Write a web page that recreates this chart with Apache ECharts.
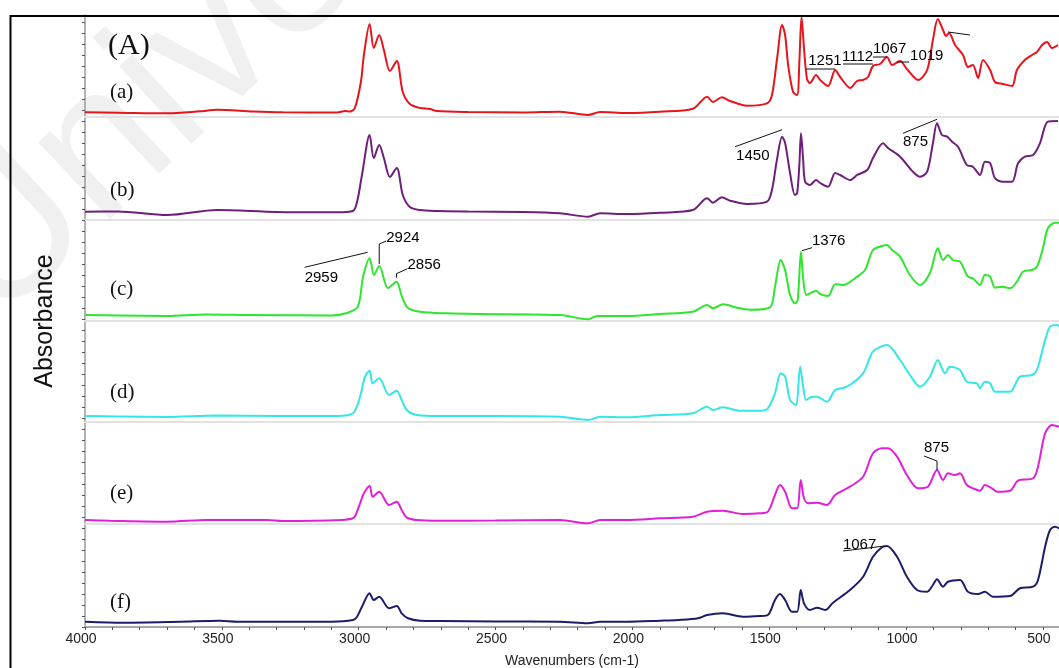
<!DOCTYPE html>
<html><head><meta charset="utf-8">
<script src="https://cdn.jsdelivr.net/npm/echarts@6/dist/echarts.min.js"></script>
<style>html,body{margin:0;padding:0;background:#fff;overflow:hidden}#c{width:1075px;height:668px}</style>
</head><body><div id="c"></div>
<script>
// ---------- data (wavenumber cm-1, relative absorbance) ----------
const sampleLabels = ['(a)', '(b)', '(c)', '(d)', '(e)', '(f)'];
const xTickLabels = [4000, 3500, 3000, 2500, 2000, 1500, 1000, 500];

const traceA = [[4000,0.047],[3879,0.043],[3700,0.037],[3580,0.057],[3518,0.072],[3386,0.055],[3277,0.047],[3079,0.045],[3050,0.06],[3032,0.055],[3014,0.09],[2992,0.35],[2981,0.62],[2960,0.93],[2945,0.69],[2925,0.82],[2908,0.67],[2886,0.46],[2861,0.56],[2839,0.25],[2813,0.13],[2776,0.09],[2740,0.08],[2714,0.06],[2600,0.05],[2400,0.045],[2265,0.053],[2162,0.02],[2118,0.05],[2020,0.04],[1899,0.053],[1779,0.083],[1727,0.203],[1706,0.15],[1673,0.197],[1643,0.16],[1581,0.113],[1508,0.137],[1490,0.22],[1472,0.57],[1453,0.92],[1442,0.82],[1431,0.52],[1413,0.25],[1398,0.22],[1390,0.55],[1382,1.0],[1372,0.65],[1362,0.38],[1351,0.34],[1329,0.42],[1314,0.37],[1285,0.31],[1259,0.47],[1241,0.40],[1204,0.29],[1179,0.36],[1157,0.37],[1139,0.40],[1121,0.51],[1095,0.53],[1070,0.60],[1051,0.52],[1022,0.56],[997,0.48],[956,0.37],[923,0.47],[902,0.77],[884,0.98],[865,0.87],[854,0.81],[843,0.84],[821,0.72],[792,0.62],[774,0.50],[756,0.52],[737,0.39],[719,0.57],[693,0.47],[675,0.35],[646,0.33],[613,0.31],[595,0.47],[566,0.57],[540,0.62],[522,0.65],[503,0.72],[485,0.75],[467,0.69],[445,0.72]];

const traceB = [[4000,0.083],[3880,0.085],[3700,0.05],[3518,0.10],[3300,0.08],[3079,0.077],[3021,0.09],[3006,0.18],[2988,0.45],[2960,0.85],[2945,0.62],[2925,0.75],[2908,0.62],[2886,0.43],[2861,0.52],[2839,0.25],[2813,0.13],[2776,0.10],[2714,0.09],[2600,0.085],[2400,0.08],[2265,0.067],[2162,0.033],[2118,0.067],[2020,0.06],[1899,0.073],[1779,0.10],[1727,0.217],[1706,0.173],[1673,0.227],[1643,0.193],[1581,0.16],[1508,0.183],[1490,0.30],[1472,0.60],[1453,0.833],[1442,0.77],[1424,0.47],[1406,0.25],[1398,0.27],[1390,0.55],[1384,0.867],[1376,0.60],[1369,0.383],[1351,0.35],[1329,0.40],[1314,0.37],[1285,0.333],[1259,0.47],[1241,0.45],[1204,0.40],[1179,0.45],[1142,0.50],[1121,0.62],[1084,0.767],[1066,0.72],[1022,0.633],[975,0.483],[949,0.433],[923,0.483],[902,0.767],[887,0.967],[869,0.85],[850,0.833],[832,0.783],[810,0.733],[778,0.55],[756,0.533],[730,0.45],[712,0.583],[693,0.57],[675,0.417],[646,0.383],[613,0.383],[591,0.567],[566,0.633],[536,0.65],[511,0.767],[482,0.983],[445,0.99]];

const traceC = [[4000,0.06],[3880,0.055],[3700,0.05],[3560,0.065],[3400,0.06],[3100,0.055],[3043,0.08],[3003,0.143],[2984,0.443],[2960,0.627],[2944,0.46],[2925,0.55],[2893,0.33],[2862,0.393],[2842,0.243],[2820,0.13],[2776,0.093],[2677,0.077],[2557,0.07],[2265,0.06],[2162,0.017],[2129,0.05],[2020,0.05],[1899,0.07],[1779,0.093],[1727,0.16],[1706,0.127],[1669,0.167],[1618,0.133],[1570,0.113],[1497,0.137],[1479,0.343],[1458,0.61],[1442,0.51],[1424,0.26],[1406,0.177],[1396,0.21],[1384,0.693],[1376,0.427],[1365,0.26],[1351,0.277],[1329,0.303],[1314,0.27],[1285,0.25],[1259,0.367],[1231,0.36],[1179,0.443],[1150,0.51],[1121,0.71],[1088,0.75],[1070,0.76],[1051,0.71],[1022,0.643],[986,0.46],[949,0.36],[913,0.477],[884,0.727],[865,0.61],[847,0.66],[829,0.61],[803,0.593],[774,0.443],[756,0.427],[730,0.36],[712,0.46],[693,0.443],[675,0.333],[650,0.343],[620,0.327],[595,0.393],[573,0.493],[540,0.51],[522,0.543],[500,0.727],[482,0.927],[456,0.983],[441,0.983]];

const traceD = [[4000,0.06],[3880,0.055],[3700,0.05],[3520,0.065],[3300,0.06],[3080,0.06],[3021,0.087],[2995,0.253],[2977,0.453],[2960,0.513],[2949,0.387],[2925,0.437],[2889,0.27],[2861,0.313],[2843,0.22],[2825,0.12],[2788,0.07],[2703,0.06],[2500,0.06],[2265,0.053],[2162,0.02],[2118,0.053],[2020,0.047],[1899,0.07],[1779,0.087],[1727,0.153],[1706,0.12],[1669,0.147],[1607,0.113],[1534,0.113],[1505,0.137],[1479,0.287],[1458,0.487],[1442,0.453],[1424,0.22],[1403,0.17],[1387,0.553],[1376,0.353],[1365,0.22],[1343,0.253],[1325,0.253],[1289,0.203],[1259,0.32],[1216,0.353],[1157,0.487],[1121,0.703],[1070,0.77],[1022,0.62],[986,0.47],[949,0.353],[913,0.453],[884,0.62],[858,0.487],[840,0.553],[803,0.52],[778,0.403],[741,0.387],[730,0.337],[712,0.403],[693,0.387],[675,0.303],[620,0.303],[584,0.453],[540,0.47],[522,0.52],[492,0.82],[474,0.953],[449,0.97],[441,0.953]];

const traceE = [[4000,0.04],[3909,0.033],[3700,0.023],[3554,0.04],[3335,0.04],[3277,0.03],[3062,0.04],[3021,0.057],[3011,0.09],[2995,0.207],[2981,0.307],[2960,0.38],[2949,0.273],[2925,0.323],[2889,0.19],[2861,0.223],[2843,0.14],[2825,0.067],[2788,0.04],[2703,0.033],[2500,0.035],[2265,0.04],[2162,0.007],[2118,0.04],[2020,0.04],[1899,0.057],[1779,0.073],[1727,0.123],[1669,0.133],[1596,0.10],[1534,0.107],[1505,0.123],[1479,0.29],[1461,0.39],[1442,0.323],[1417,0.157],[1398,0.157],[1385,0.44],[1373,0.257],[1358,0.207],[1325,0.213],[1289,0.19],[1259,0.29],[1205,0.373],[1157,0.473],[1121,0.707],[1088,0.757],[1066,0.757],[1033,0.673],[997,0.49],[956,0.357],[920,0.373],[887,0.54],[865,0.44],[847,0.507],[821,0.49],[803,0.507],[778,0.39],[741,0.34],[730,0.333],[712,0.39],[686,0.357],[668,0.323],[620,0.333],[591,0.433],[536,0.457],[518,0.573],[492,0.907],[467,0.99],[441,0.973]];

const traceF = [[4000,0.053],[3861,0.043],[3653,0.053],[3507,0.063],[3444,0.053],[3100,0.053],[3021,0.07],[3006,0.103],[2988,0.203],[2960,0.337],[2945,0.27],[2925,0.303],[2889,0.187],[2861,0.21],[2843,0.137],[2820,0.087],[2776,0.063],[2700,0.06],[2500,0.055],[2265,0.053],[2162,0.037],[2118,0.053],[2020,0.053],[1899,0.063],[1833,0.07],[1760,0.087],[1727,0.12],[1669,0.137],[1596,0.103],[1534,0.11],[1505,0.12],[1479,0.27],[1461,0.33],[1442,0.27],[1417,0.153],[1398,0.153],[1385,0.37],[1373,0.237],[1351,0.17],[1325,0.193],[1296,0.17],[1267,0.243],[1205,0.37],[1157,0.503],[1121,0.703],[1088,0.797],[1070,0.81],[1033,0.703],[997,0.503],[960,0.37],[923,0.353],[902,0.42],[887,0.477],[865,0.403],[847,0.453],[803,0.47],[774,0.353],[737,0.33],[712,0.353],[683,0.303],[620,0.31],[584,0.387],[536,0.403],[518,0.47],[492,0.803],[474,0.97],[456,1.003],[441,0.987]];

const traces = [traceA, traceB, traceC, traceD, traceE, traceF];

// peak annotations: trace index, anchor [wavenumber, absorbance], label
const peakLabels = [
  {s:0, at:[1259,0.47], text:'1251'},
  {s:0, at:[1121,0.51], text:'1112'},
  {s:0, at:[1070,0.60], text:'1067'},
  {s:0, at:[1022,0.56], text:'1019'},
  {s:0, at:[843,0.84], text:''},
  {s:1, at:[1453,0.833], text:'1450'},
  {s:1, at:[887,0.967], text:'875'},
  {s:2, at:[2960,0.627], text:'2959'},
  {s:2, at:[2925,0.55], text:'2924'},
  {s:2, at:[2862,0.393], text:'2856'},
  {s:2, at:[1384,0.693], text:'1376'},
  {s:4, at:[887,0.54], text:'875'},
  {s:5, at:[1070,0.81], text:'1067'}
];

// ---------- styling / layout ----------
const colors = ['#e8141c', '#6e1f7a', '#2ee62e', '#34e6e6', '#e020d8', '#1c1c6c'];
const panelEdges = [15, 117, 220, 321, 422, 524, 627];
const plotLeft = 85, plotWidth = 985.3;
const labelLayout = [
  {tx:-27, ty:-9, line:[[-29,-1],[0,-1]]},
  {tx:-31, ty:-9, line:[[-30,-2],[0,-2]]},
  {tx:-14, ty:-8, line:[[-14,0],[0,0]]},
  {tx:10,  ty:-5, line:[[-3,1],[9,1]]},
  {tx:0,   ty:0,  line:[[-1,-1],[21,2]]},
  {tx:-46, ty:19, line:[[-47,10],[0,-7]]},
  {tx:-34, ty:19, line:[[-34,10],[0,-4]]},
  {tx:-65, ty:20, line:[[-65,9],[-2,-6]]},
  {tx:7,   ty:-28, line:[[0,-2],[0,-22],[7,-25]]},
  {tx:11,  ty:-17, line:[[0,-4],[0,-8],[11,-13]]},
  {tx:11,  ty:-11, line:[[1,-1],[11,-4]]},
  {tx:-13, ty:-22, line:[[-13,-14],[0,-9],[0,0]]},
  {tx:-44, ty:-1, line:[[-44,5],[-2,0]]}
];
const labelY = [92, 190, 289, 392, 493, 602];

const chart = echarts.init(document.getElementById('c'), null, {renderer: 'canvas'});

const grids = [], xAxes = [], yAxes = [], series = [];
for (let i = 0; i < 6; i++) {
  const top = panelEdges[i], h = panelEdges[i + 1] - panelEdges[i];
  grids.push({left: plotLeft, top: top, width: plotWidth, height: h});
  xAxes.push({
    gridIndex: i, type: 'value', min: 400, max: 4000, inverse: true,
    axisLine: {show: i < 5, lineStyle: {color: '#e2e2e2', width: 2}},
    axisTick: {show: false}, axisLabel: {show: false}, splitLine: {show: false}
  });
  yAxes.push({gridIndex: i, type: 'value', min: 0, max: h / 100, show: false});
  series.push({
    type: 'line', xAxisIndex: i, yAxisIndex: i, data: traces[i],
    showSymbol: false, smooth: 0.3, z: 5,
    lineStyle: {color: colors[i], width: 2}, silent: true, animation: false
  });
}
grids.push({left: plotLeft, top: panelEdges[0], width: plotWidth, height: panelEdges[6] - panelEdges[0]});
xAxes.push({
  gridIndex: 6, type: 'value', min: 400, max: 4000, inverse: true, interval: 100,
  axisLine: {show: true, lineStyle: {color: '#a8a8a8', width: 2}},
  axisTick: {show: true, length: 3, lineStyle: {color: '#555', width: 1}},
  axisLabel: {
    show: true, interval: 0, margin: 5, color: '#222', fontSize: 14,
    fontFamily: 'Liberation Sans', padding: [0, 8, 0, 0],
    formatter: v => xTickLabels.indexOf(v) >= 0 ? String(v) : ''
  },
  splitLine: {show: false}
});
yAxes.push({
  gridIndex: 6, type: 'value', min: 0, max: 612, interval: 11,
  axisLine: {show: true, lineStyle: {color: '#9a9a9a', width: 1.5}},
  axisTick: {show: true, length: 3, lineStyle: {color: '#555'}},
  axisLabel: {show: false}, splitLine: {show: false}
});

chart.setOption({
  animation: false,
  grid: grids, xAxis: xAxes, yAxis: yAxes, series: series
});

const graphics = [
  {type: 'text', x: 25, y: 360, rotation: 43 * Math.PI / 180, z: -10, silent: true,
   style: {text: 'University', font: '200px "Liberation Sans"', fill: 'rgba(0,0,0,0.06)', textVerticalAlign: 'bottom'}},
  {type: 'rect', shape: {x: 10.5, y: 16, width: 1100, height: 700}, z: 20, silent: true,
   style: {fill: 'none', stroke: '#000', lineWidth: 2}},
  {type: 'text', x: 108, y: 46, z: 20, style: {text: '(A)', font: '30px "Liberation Serif"', fill: '#111', textVerticalAlign: 'middle'}},
  {type: 'text', x: 572, y: 661, z: 20, style: {text: 'Wavenumbers (cm-1)', font: '14px "Liberation Sans"', fill: '#222', textAlign: 'center', textVerticalAlign: 'middle'}},
  {type: 'text', x: 45, y: 321, rotation: Math.PI / 2, z: 20, style: {text: 'Absorbance', font: '25px "Liberation Sans"', fill: '#111', textAlign: 'center', textVerticalAlign: 'middle'}}
];
sampleLabels.forEach((t, i) => {
  graphics.push({type: 'text', x: 110, y: labelY[i], z: 20,
    style: {text: t, font: '21px "Liberation Serif"', fill: '#111', textVerticalAlign: 'middle'}});
});
peakLabels.forEach((p, k) => {
  const pt = chart.convertToPixel({gridIndex: p.s}, p.at);
  const L = labelLayout[k];
  graphics.push({type: 'polyline', z: 15, silent: true,
    shape: {points: L.line.map(d => [pt[0] + d[0], pt[1] + d[1]])},
    style: {stroke: '#111', lineWidth: 1, fill: null}});
  if (p.text) {
    graphics.push({type: 'text', x: pt[0] + L.tx, y: pt[1] + L.ty, z: 16,
      style: {text: p.text, font: '15px "Liberation Sans"', fill: '#000', textVerticalAlign: 'middle'}});
  }
});
chart.setOption({graphic: graphics});
</script>
</body></html>
